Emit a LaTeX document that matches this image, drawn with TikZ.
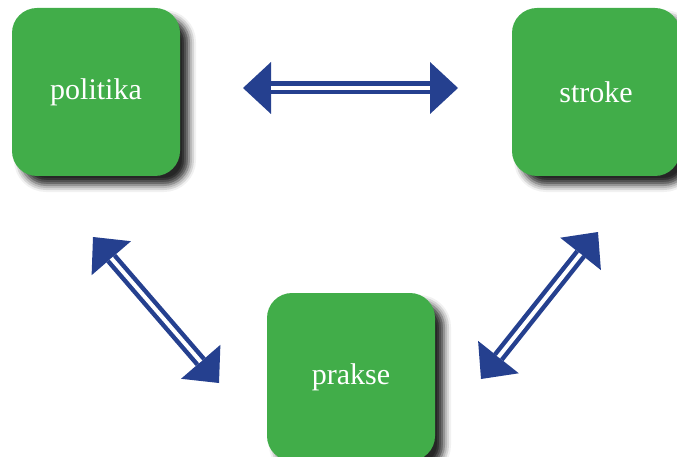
\documentclass[tikz,border=0pt]{standalone}
\usepackage{fontspec}
\setmainfont{Liberation Serif}
\usetikzlibrary{arrows.meta,shadows.blur}
\definecolor{boxgreen}{HTML}{41AD49}
\definecolor{arrowblue}{HTML}{25408F}
\tikzset{bigtri/.tip={Triangle[length=28pt,width=52pt,line width=0pt]}}
\tikzset{box/.style={rectangle,rounded corners=25pt,fill=boxgreen,text=white,
        minimum width=168pt,minimum height=168pt,font=\fontsize{30}{36}\selectfont,
        blur shadow={shadow xshift=9pt,shadow yshift=-9pt,shadow blur radius=7pt,shadow opacity=85}}}
\tikzset{link/.style={draw=arrowblue,line width=13pt,arrows={bigtri-bigtri},
        postaction={draw=white,line width=4pt,arrows=-,shorten <=28pt,shorten >=28pt}}}

\begin{document}
\begin{tikzpicture}[x=1pt,y=-1pt]
        \useasboundingbox (0,0) rectangle (677,457);
        \node[box] (politika) at (96,92) {politika};
        \node[box] (stroke) at (596,92) {stroke};
        \node[box] (prakse) at (351,377) {prakse};
        \coordinate (ps) at (243,88);
        \coordinate (sp) at (458,88);
        \coordinate (pp) at (93,237);
        \coordinate (pr) at (219,383);
        \coordinate (rs) at (481,379);
        \coordinate (sr) at (598,232);
        \draw[link] (ps) -- (sp);
        \draw[link] (pp) -- (pr);
        \draw[link] (rs) -- (sr);
\end{tikzpicture}
\end{document}
